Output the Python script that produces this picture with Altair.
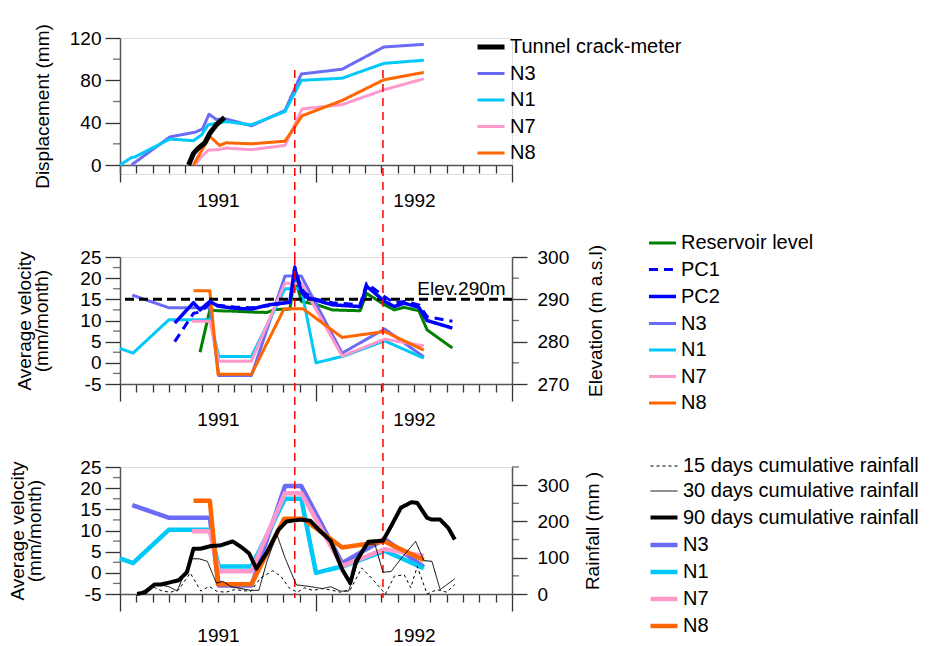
import altair as alt
import pandas as pd

FONT = "Liberation Sans"
W = 392
H = 127
TOP_EXTRA = 9  # extra flush height under the top panel's x axis
NB = "\u00a0"  # spacer that keeps left-axis labels clear of the long ticks

# ---------------- x: months after January 1991 ----------------
month_ticks = list(range(0, 25))
red_lines_m = [10.7, 16.1]

# ---------------- y tick values ----------------
top_major = [0, 40, 80, 120]
top_minor = [20, 60, 100]
vel_major = [-5, 0, 5, 10, 15, 20, 25]
vel_minor = [-2.5, 2.5, 7.5, 12.5, 17.5, 22.5]
elev_major = [270, 280, 290, 300]
elev_minor = [275, 285, 295]
rain_major = [0, 100, 200, 300]
rain_minor = [50, 150, 250, 350]

# ---------------- top panel: displacement (mm) ----------------
crack_m = [4.2, 4.5, 4.8, 5.2, 5.5, 5.9, 6.4]
crack_v = [0, 11, 16, 21, 30, 38, 45]
top_n3_m = [0.7, 3.05, 4.6, 5.05, 5.45, 5.9, 6.5, 8.05, 10.1, 11.1, 13.6, 16.15, 18.6]
top_n3_v = [0, 26.5, 31, 34, 48, 43, 43.5, 37, 51.5, 86, 90.5, 111.5, 114]
top_n1_m = [0, 0.7, 0.9, 3.05, 4.5, 5.0, 5.4, 6.5, 8.05, 10.1, 11.1, 13.6, 16.15, 18.6]
top_n1_v = [0, 7, 7.5, 24.5, 23, 28.5, 38, 41, 38, 50.5, 80, 82, 96, 99]
top_n7_m = [4.6, 5.0, 5.4, 6.0, 6.5, 8.05, 10.1, 11.15, 13.6, 16.15, 18.6]
top_n7_v = [0, 8, 14, 14.5, 16, 14.5, 18.5, 53, 57, 71, 81.5]
top_n8_m = [4.5, 4.9, 5.5, 6.1, 6.5, 8.05, 10.1, 11.15, 13.6, 16.15, 18.6]
top_n8_v = [0, 11, 27, 18.5, 21, 20, 22.5, 46.5, 61, 80.5, 87.5]

# ---------------- velocities (mm/month), shared by middle & bottom ----------------
n3_m = [0.75, 3.0, 5.5, 6.05, 8.05, 10.1, 11.1, 13.6, 16.2, 18.6]
n3_v = [16, 13, 13, -3, -3, 20.5, 20.5, 2.3, 8, 1.4]
n1_m = [0, 0.8, 3.0, 5.5, 6.05, 8.05, 10.1, 11.1, 12.0, 13.7, 16.2, 18.6]
n1_v = [3.4, 2.3, 10.2, 10.2, 1.5, 1.5, 17.5, 17.5, 0, 1.6, 5.2, 1.1]
n7_m = [4.4, 5.5, 6.05, 8.05, 10.1, 11.1, 13.6, 16.2, 18.6]
n7_v = [9.8, 9.8, 0.4, 0.4, 18.8, 18.8, 1.6, 5.6, 4.0]
n8_m = [4.5, 5.5, 6.0, 8.05, 10.05, 11.2, 13.6, 16.2, 18.6]
n8_v = [17, 17, -2.7, -2.7, 12.8, 12.8, 6.0, 7.4, 3.0]

# ---------------- middle panel: PC1, PC2 (mm/month), reservoir (m a.s.l.) ----------------
pc_m = [3.35, 4.5, 4.9, 5.5, 6.0, 7.0, 8.05, 9.1, 9.9, 10.4, 10.7, 11.1, 11.35, 12.0,
        13.0, 14.7, 15.1, 16.2, 16.8, 17.4, 18.3, 18.8, 20.35]
pc2_v = [9.4, 14.2, 12.5, 14.5, 13.4, 12.9, 12.7, 13.7, 14.1, 14.3, 22.3, 16.8, 15.6, 14.8,
         13.7, 13.3, 18.1, 14.5, 13.3, 14.1, 13.1, 10.0, 8.2]
pc1_v = [5.0, 11.7, 12.0, 14.0, 13.6, 13.2, 13.0, 13.5, 14.0, 14.2, 22.7, 17.5, 16.4, 15.0,
         14.2, 13.7, 18.8, 15.6, 14.2, 14.5, 13.7, 10.9, 9.8]
res_m = [4.9, 5.5, 6.0, 7.0, 8.0, 9.0, 9.5, 10.4, 10.7, 11.1, 12.0, 13.0, 14.7, 15.1,
         16.2, 16.8, 17.4, 18.3, 18.8, 20.35]
res_elev = [277.5, 287.5, 287.3, 287.2, 287.0, 286.9, 287.6, 287.7, 295.5, 289.5, 288.8,
            287.5, 287.3, 291.4, 288.7, 287.5, 288.1, 287.3, 282.8, 278.5]
elev_line_v = [15]
elev_label = ["Elev.290m"]
elev_label_m = [18.2]

# ---------------- bottom panel: cumulative rainfall (mm) ----------------
r90_m = [1.05, 1.55, 2.1, 2.5, 3.05, 3.6, 4.1, 4.5, 4.95, 5.55, 6.15, 6.9, 7.5, 7.9, 8.35,
         9.0, 9.7, 10.2, 11.05, 11.65, 12.15, 12.9, 13.6, 14.1, 14.45, 15.2, 16.1, 16.6,
         17.2, 17.85, 18.2, 18.8, 19.1, 19.6, 20.1, 20.5]
r90_v = [0, 5, 26, 26, 32, 38, 60, 125, 125, 132, 134, 145, 127, 112, 70, 115, 177, 200,
         205, 202, 178, 146, 68, 30, 90, 144, 147, 187, 238, 253, 251, 210, 205, 205, 182, 150]
r30_m = [1.3, 2.0, 2.5, 3.0, 3.5, 4.0, 4.4, 4.85, 5.35, 5.9, 6.3, 6.8, 7.4, 8.0, 8.5, 9.0,
         9.6, 10.1, 10.8, 11.4, 12.4, 12.9, 13.5, 14.0, 14.5, 15.1, 15.6, 16.1, 16.6, 17.2,
         18.1, 18.6, 19.1, 19.6, 20.5]
r30_v = [5, 25, 25, 20, 8, 62, 97, 97, 90, 30, 35, 20, 15, 10, 10, 90, 165, 100, 25, 22,
         15, 20, 8, 8, 80, 136, 138, 60, 62, 97, 145, 92, 90, 12, 42]
r15_m = [1.05, 1.6, 2.1, 2.6, 3.1, 3.6, 4.3, 4.95, 5.45, 5.95, 6.5, 7.0, 8.0, 8.6, 9.35,
         9.85, 10.35, 10.85, 11.3, 11.8, 12.4, 13.0, 13.5, 14.1, 14.8, 15.4, 16.25, 16.8,
         17.4, 17.8, 18.2, 18.8, 19.4, 20.0, 20.5]
r15_v = [0, 5, 18, 8, 5, 12, 58, 8, 21, 7, 5, 12, 7, 44, 64, 49, 17, 5, 17, 10, 15, 10, 5,
         12, 72, 44, 0, 49, 53, 17, 76, 0, 12, 5, 26]

# ---------------- styles ----------------
C_N3, C_N1, C_N7, C_N8 = "#6b6bf5", "#00c8f8", "#ff99cc", "#ff6600"
C_RES, C_PC, C_BLK, C_RED = "#008000", "#0000ff", "#000000", "#ff0000"
TICK_C = "#333333"
SOLID = [1, 0]


def long_df(pairs):
    rows = []
    for name, ms, vs in pairs:
        for m, v in zip(ms, vs):
            rows.append({"series": name, "m": m, "v": v})
    return pd.DataFrame(rows)


def x_enc(pad, offset=0):
    return alt.X(
        "m:Q",
        scale=alt.Scale(domain=[0, 24], nice=False, zero=False),
        axis=alt.Axis(
            values=month_ticks, title=None, grid=False, offset=offset,
            labelExpr="datum.value == 6 ? '1991' : (datum.value == 18 ? '1992' : '')",
            tickSize={"condition": {"test": "datum.value % 12 === 0", "value": 17}, "value": 8},
            labelPadding=pad, labelFont=FONT, labelFontSize=19, labelColor="black",
            labelOverlap=False, labelFlush=False, labelBound=False,
            domainColor="#555555", domainWidth=1.5, tickColor=TICK_C, tickWidth=1.3,
        ),
    )


def y_axis(values, title, orient="left", title_pad=10, label_pad=4,
           baseline=None, title_x=None, line_h=17, spacer=0):
    kw = {}
    if baseline:
        kw["titleBaseline"] = baseline
    if title_x is not None:
        kw["titleX"] = title_x
    return alt.Axis(
        values=values, orient=orient, title=title, grid=False, tickSize=15,
        labelExpr="'' + datum.value + '" + NB * spacer + "'",
        labelPadding=label_pad, labelFont=FONT, labelFontSize=19, labelColor="black",
        labelOverlap=False, labelFlush=False, labelBound=False,
        titleFont=FONT, titleFontSize=19, titleFontWeight="normal", titleColor="black",
        titlePadding=title_pad, titleAngle=270, titleLineHeight=line_h,
        domainColor="#555555", domainWidth=1.5, tickColor=TICK_C, tickWidth=1.3,
        **kw,
    )


def minor_ticks(values, yenc, side):
    xpos = -3.5 if side == "left" else W + 3.5
    return alt.Chart(pd.DataFrame({"v": values})).mark_tick(
        orient="horizontal", size=7, thickness=1.3, color=TICK_C
    ).encode(y=yenc, x=alt.value(xpos))


def legend(x, y, row_pad):
    return alt.Legend(
        orient="none", legendX=x, legendY=y, title=None, symbolType="stroke",
        symbolSize=729, labelFont=FONT, labelFontSize=20, labelColor="black",
        rowPadding=row_pad, padding=0, labelOffset=3, labelLimit=400, symbolOpacity=1,
    )


def series_encodings(domain, colors, widths, dashes, leg):
    return dict(
        color=alt.Color("series:N", scale=alt.Scale(domain=domain, range=colors), legend=leg),
        strokeWidth=alt.StrokeWidth("series:N", scale=alt.Scale(type="ordinal", domain=domain, range=widths),
                                    legend=leg),
        strokeDash=alt.StrokeDash("series:N", scale=alt.Scale(type="ordinal", domain=domain, range=dashes),
                                  legend=leg),
    )


red_df = pd.DataFrame({"m": red_lines_m})


def red_rules(xe, y0, y1):
    return alt.Chart(red_df).mark_rule(color=C_RED, strokeWidth=1.5, strokeDash=[8, 6]).encode(
        x=xe, y=alt.value(y0), y2=alt.value(y1)
    )


GAP = 83

# ================= TOP =================
top_domain = ["Tunnel crack-meter", "N3", "N1", "N7", "N8"]
top_df = long_df([
    ("N7", top_n7_m, top_n7_v), ("N8", top_n8_m, top_n8_v),
    ("N3", top_n3_m, top_n3_v), ("N1", top_n1_m, top_n1_v),
    ("Tunnel crack-meter", crack_m, crack_v),
])
x_top = x_enc(18, offset=-TOP_EXTRA)
y_top = alt.Y("v:Q", scale=alt.Scale(domain=[-120 * TOP_EXTRA / H, 120], nice=False, zero=False),
              axis=y_axis(top_major, "Displacement  (mm)", label_pad=4,
                          baseline="alphabetic", title_x=-72, spacer=4))
top_lines = alt.Chart(top_df).mark_line(strokeJoin="round").encode(
    x=x_top, y=y_top,
    **series_encodings(top_domain, [C_BLK, C_N3, C_N1, C_N7, C_N8], [5, 3, 3, 3, 3],
                       [SOLID] * 5, legend(355, -7, 1.5)),
)
top = alt.layer(top_lines, minor_ticks(top_minor, y_top, "left"),
                red_rules(x_top, 32, H + TOP_EXTRA + GAP)).properties(width=W, height=H + TOP_EXTRA)

# ================= MIDDLE =================
mid_domain = ["Reservoir level", "PC1", "PC2", "N3", "N1", "N7", "N8"]
mid_colors = [C_RES, C_PC, C_PC, C_N3, C_N1, C_N7, C_N8]
mid_widths = [3, 3, 3.5, 3, 3, 3, 3]
mid_dashes = [SOLID, [9, 6], SOLID, SOLID, SOLID, SOLID, SOLID]
mid_leg = legend(527, -29, 1.5)
x_mid = x_enc(18)
y_vel_mid = alt.Y("v:Q", scale=alt.Scale(domain=[-5, 25], nice=False),
                  axis=y_axis(vel_major, ["Average velocity", "(mm/month)"], label_pad=4,
                              baseline="alphabetic", title_x=-90, spacer=3))
y_elev = alt.Y("v:Q", scale=alt.Scale(domain=[270, 300], nice=False, zero=False),
               axis=y_axis(elev_major, "Elevation (m a.s.l)",
                           orient="right", title_pad=18, label_pad=10, baseline="top"))

vel_df = long_df([("N3", n3_m, n3_v), ("N1", n1_m, n1_v), ("N7", n7_m, n7_v), ("N8", n8_m, n8_v)])
pc_df = long_df([("PC1", pc_m, pc1_v), ("PC2", pc_m, pc2_v)])
res_df = long_df([("Reservoir level", res_m, res_elev)])

enc_mid = series_encodings(mid_domain, mid_colors, mid_widths, mid_dashes, mid_leg)
mid_res = alt.Chart(res_df).mark_line(strokeJoin="round").encode(x=x_mid, y=y_elev, **enc_mid)
mid_n = alt.Chart(vel_df).mark_line(strokeJoin="round").encode(x=x_mid, y=y_vel_mid, **enc_mid)
mid_elev = alt.Chart(pd.DataFrame({"v": elev_line_v})).mark_rule(
    color="black", strokeWidth=3, strokeDash=[9, 5]).encode(y=y_vel_mid)
mid_txt = alt.Chart(pd.DataFrame({"m": elev_label_m, "v": elev_line_v, "t": elev_label})).mark_text(
    align="left", baseline="alphabetic", dy=-4, font=FONT, fontSize=19, color="black"
).encode(x=x_mid, y=y_vel_mid, text="t:N")
mid_pc = alt.Chart(pc_df).mark_line(strokeJoin="round").encode(x=x_mid, y=y_vel_mid, **enc_mid)
mid_elev_group = alt.layer(mid_res, minor_ticks(elev_minor, y_elev, "right"))
mid_vel_group = alt.layer(mid_n, mid_elev, mid_txt, mid_pc, minor_ticks(vel_minor, y_vel_mid, "left"),
                          red_rules(x_mid, 0, H + GAP))
mid = alt.layer(mid_elev_group, mid_vel_group).resolve_scale(y="independent").properties(width=W, height=H)

# ================= BOTTOM =================
bot_domain = ["15 days cumulative rainfall", "30 days cumulative rainfall",
              "90 days cumulative rainfall", "N3", "N1", "N7", "N8"]
bot_colors = [C_BLK, C_BLK, C_BLK, C_N3, C_N1, C_N7, C_N8]
bot_widths = [1, 1, 4, 4.5, 4.5, 4.5, 4.5]
bot_dashes = [[3, 3], SOLID, SOLID, SOLID, SOLID, SOLID, SOLID]
bot_leg = legend(528, -15, 1.0)
x_bot = x_enc(24)
y_vel_bot = alt.Y("v:Q", scale=alt.Scale(domain=[-5, 25], nice=False),
                  axis=y_axis(vel_major, ["Average velocity", "(mm/month)"], label_pad=4,
                              baseline="alphabetic", title_x=-97, spacer=2))
y_rain = alt.Y("v:Q", scale=alt.Scale(domain=[0, 350], nice=False),
               axis=y_axis(rain_major, "Rainfall (mm )",
                           orient="right", title_pad=15, label_pad=10, baseline="top"))
rain_df = long_df([
    ("15 days cumulative rainfall", r15_m, r15_v),
    ("30 days cumulative rainfall", r30_m, r30_v),
    ("90 days cumulative rainfall", r90_m, r90_v),
])
enc_bot = series_encodings(bot_domain, bot_colors, bot_widths, bot_dashes, bot_leg)
bot_n = alt.Chart(vel_df).mark_line(strokeJoin="round").encode(x=x_bot, y=y_vel_bot, **enc_bot)
bot_rain = alt.Chart(rain_df).mark_line(strokeJoin="round").encode(x=x_bot, y=y_rain, **enc_bot)
bot_vel_group = alt.layer(bot_n, minor_ticks(vel_minor, y_vel_bot, "left"), red_rules(x_bot, 0, H + 4))
bot_rain_group = alt.layer(bot_rain, minor_ticks(rain_minor, y_rain, "right"))
bot = alt.layer(bot_vel_group, bot_rain_group).resolve_scale(y="independent").properties(width=W, height=H)

chart = alt.vconcat(top, mid, bot, spacing=GAP, bounds="flush").resolve_scale(
    color="independent", strokeWidth="independent", strokeDash="independent"
).resolve_legend(
    color="independent", strokeWidth="independent", strokeDash="independent"
).properties(
    padding={"left": 7, "top": 20, "right": 0, "bottom": 0}
).configure_view(stroke=None).configure(background="white")

chart.save("out.html", embed_options={"renderer": "svg", "actions": False})
